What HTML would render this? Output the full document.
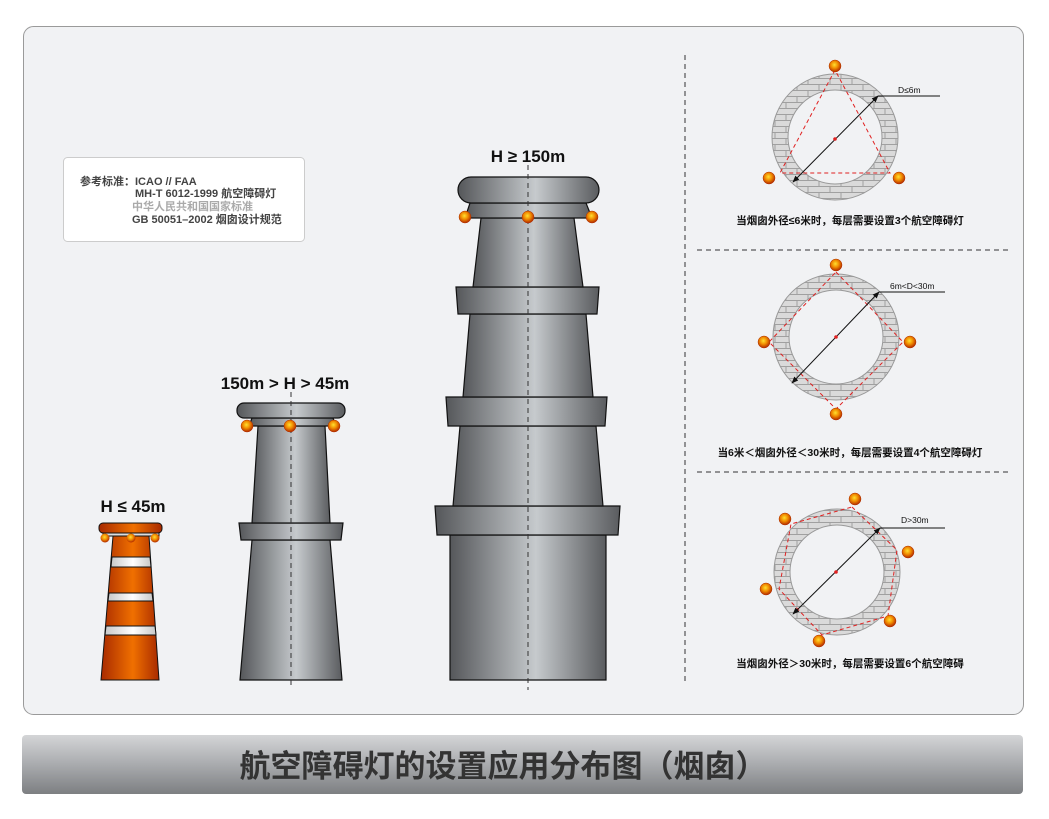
<!DOCTYPE html>
<html><head><meta charset="utf-8">
<style>
body{margin:0;width:1049px;height:819px;background:#fff;overflow:hidden}
svg{display:block}
text{font-family:"Liberation Sans","Noto Sans CJK SC",sans-serif;}
</style></head><body>
<svg width="1049" height="819" viewBox="0 0 1049 819" xmlns="http://www.w3.org/2000/svg">
<defs>
<linearGradient id="gy" x1="0" x2="1" y1="0" y2="0">
<stop offset="0" stop-color="#55575a"/><stop offset="0.55" stop-color="#c6cacd"/><stop offset="1" stop-color="#5a5c5f"/>
</linearGradient>
<linearGradient id="or" x1="0" x2="1">
<stop offset="0" stop-color="#a82a00"/><stop offset="0.55" stop-color="#f07000"/><stop offset="1" stop-color="#a82a00"/>
</linearGradient>
<linearGradient id="wh" x1="0" x2="1">
<stop offset="0" stop-color="#c8c8c8"/><stop offset="0.55" stop-color="#ffffff"/><stop offset="1" stop-color="#c8c8c8"/>
</linearGradient>
<linearGradient id="tb" x1="0" x2="0" y1="0" y2="1">
<stop offset="0" stop-color="#d4d5d7"/><stop offset="0.5" stop-color="#a9abae"/><stop offset="1" stop-color="#7d7f82"/>
</linearGradient>
<radialGradient id="lt" cx="0.45" cy="0.4" r="0.6">
<stop offset="0" stop-color="#ffe030"/><stop offset="0.5" stop-color="#f08a00"/><stop offset="1" stop-color="#b02800"/>
</radialGradient>
<pattern id="brick" width="22" height="12" patternUnits="userSpaceOnUse">
<rect width="22" height="12" fill="#dadada"/>
<path d="M0 0.5H22M0 6.5H22M5 0V6M16 6V12" stroke="#a0a0a0" stroke-width="1" fill="none"/>
</pattern>
<marker id="ar" viewBox="0 0 10 10" refX="9" refY="5" markerWidth="7" markerHeight="7" orient="auto-start-reverse">
<path d="M0,1 L10,5 L0,9 z" fill="#111"/>
</marker>
<g id="L"><circle r="6" fill="url(#lt)" stroke="#b03000" stroke-width="0.5"/></g>
</defs>

<rect x="23.5" y="26.5" width="1000" height="688" rx="10" fill="#f1f2f4" stroke="#9a9a9a"/>

<rect x="63.5" y="157.5" width="241" height="84" rx="4" fill="#fff" stroke="#ccc"/>
<g font-size="11" font-weight="bold" fill="#444">
<text x="80" y="185">参考标准：ICAO // FAA</text>
<text x="135" y="197">MH-T 6012-1999 航空障碍灯</text>
<text x="132" y="210" fill="#aaa">中华人民共和国国家标准</text>
<text x="132" y="223">GB 50051–2002 烟囱设计规范</text>
</g>

<g stroke="#111" stroke-width="1.2" fill="url(#gy)">
<polygon points="450,535 606,535 606,680 450,680"/>
<polygon points="435,506 620,506 618,535 437,535"/>
<polygon points="460,426 596,426 603,506 453,506"/>
<polygon points="446,397 607,397 605,426 448,426"/>
<polygon points="470,314 586,314 593,397 463,397"/>
<polygon points="456,287 599,287 597,314 458,314"/>
<polygon points="481,218 574,218 583,287 473,287"/>
<polygon points="470,203 586,203 592,218 465,218"/>
<rect x="458" y="177" width="141" height="26" rx="13"/>
</g>
<line x1="528" y1="165" x2="528" y2="690" stroke="#333" stroke-dasharray="5,4"/>
<use href="#L" x="465" y="217"/><use href="#L" x="528" y="217"/><use href="#L" x="592" y="217"/>
<text x="528" y="162" font-size="17" font-weight="bold" text-anchor="middle" fill="#111">H ≥ 150m</text>

<g stroke="#111" stroke-width="1.2" fill="url(#gy)">
<polygon points="252,540 330,540 342,680 240,680"/>
<polygon points="239,523 343,523 341,540 241,540"/>
<polygon points="258,426 325,426 330,523 252,523"/>
<polygon points="252,418 333,418 336,426 249,426"/>
<rect x="237" y="403" width="108" height="15" rx="7"/>
</g>
<line x1="291" y1="392" x2="291" y2="688" stroke="#333" stroke-dasharray="5,4"/>
<use href="#L" x="247" y="426"/><use href="#L" x="290" y="426"/><use href="#L" x="334" y="426"/>
<text x="285" y="389" font-size="17" font-weight="bold" text-anchor="middle" fill="#111">150m &gt; H &gt; 45m</text>

<g stroke="#111" stroke-width="1">
<polygon points="113,536 149,536 159,680 101,680" fill="url(#or)"/>
<polygon points="112,557 150,557 151,567 111,567" fill="url(#wh)"/>
<polygon points="109,593 152,593 153,601 108,601" fill="url(#wh)"/>
<polygon points="106,626 155,626 156,635 105,635" fill="url(#wh)"/>
<rect x="103" y="532" width="56" height="4" fill="#ddd"/>
<rect x="99" y="523" width="63" height="10" rx="4" fill="url(#or)"/>
</g>
<circle cx="105" cy="538" r="4.5" fill="url(#lt)"/><circle cx="131" cy="538" r="4.5" fill="url(#lt)"/><circle cx="155" cy="538" r="4.5" fill="url(#lt)"/>
<text x="133" y="512" font-size="17" font-weight="bold" text-anchor="middle" fill="#111">H ≤ 45m</text>

<line x1="685" y1="55" x2="685" y2="685" stroke="#333" stroke-dasharray="5,4"/>
<line x1="697" y1="250" x2="1010" y2="250" stroke="#333" stroke-dasharray="5,4"/>
<line x1="697" y1="472" x2="1010" y2="472" stroke="#333" stroke-dasharray="5,4"/>

<g>
<circle cx="835" cy="137" r="55" fill="none" stroke="url(#brick)" stroke-width="16"/>
<circle cx="835" cy="137" r="63" fill="none" stroke="#999"/>
<circle cx="835" cy="137" r="47" fill="none" stroke="#999"/>
<polygon points="835,70 780,173 890,173" fill="none" stroke="#e02020" stroke-dasharray="4,3"/>
<line x1="793" y1="182" x2="878" y2="96" stroke="#111" marker-start="url(#ar)" marker-end="url(#ar)"/>
<line x1="878" y1="96" x2="940" y2="96" stroke="#111"/>
<circle cx="835" cy="139" r="1.8" fill="#e02020"/>
<use href="#L" x="835" y="66"/><use href="#L" x="769" y="178"/><use href="#L" x="899" y="178"/>
<text x="898" y="93" font-size="8.5" fill="#111">D≤6m</text>
<text x="850" y="224" font-size="10.5" font-weight="bold" text-anchor="middle" fill="#111">当烟囱外径≤6米时，每层需要设置3个航空障碍灯</text>
</g>

<g>
<circle cx="836" cy="337" r="55" fill="none" stroke="url(#brick)" stroke-width="16"/>
<circle cx="836" cy="337" r="63" fill="none" stroke="#999"/>
<circle cx="836" cy="337" r="47" fill="none" stroke="#999"/>
<polygon points="836,272 903,342 836,409 769,342" fill="none" stroke="#e02020" stroke-dasharray="4,3"/>
<line x1="792" y1="383" x2="879" y2="292" stroke="#111" marker-start="url(#ar)" marker-end="url(#ar)"/>
<line x1="879" y1="292" x2="945" y2="292" stroke="#111"/>
<circle cx="836" cy="337" r="1.8" fill="#e02020"/>
<use href="#L" x="836" y="265"/><use href="#L" x="764" y="342"/><use href="#L" x="910" y="342"/><use href="#L" x="836" y="414"/>
<text x="890" y="289" font-size="8.5" fill="#111">6m&lt;D&lt;30m</text>
<text x="850" y="456" font-size="10.5" font-weight="bold" text-anchor="middle" fill="#111">当6米＜烟囱外径＜30米时，每层需要设置4个航空障碍灯</text>
</g>

<g>
<circle cx="837" cy="572" r="55" fill="none" stroke="url(#brick)" stroke-width="16"/>
<circle cx="837" cy="572" r="63" fill="none" stroke="#999"/>
<circle cx="837" cy="572" r="47" fill="none" stroke="#999"/>
<polygon points="852,507 897,550 888,616 822,635 779,589 791,524" fill="none" stroke="#e02020" stroke-dasharray="4,3"/>
<line x1="793" y1="614" x2="880" y2="528" stroke="#111" marker-start="url(#ar)" marker-end="url(#ar)"/>
<line x1="880" y1="528" x2="945" y2="528" stroke="#111"/>
<circle cx="836" cy="572" r="1.8" fill="#e02020"/>
<use href="#L" x="855" y="499"/><use href="#L" x="785" y="519"/><use href="#L" x="908" y="552"/><use href="#L" x="766" y="589"/><use href="#L" x="890" y="621"/><use href="#L" x="819" y="641"/>
<text x="901" y="523" font-size="8.5" fill="#111">D&gt;30m</text>
<text x="850" y="667" font-size="10.5" font-weight="bold" text-anchor="middle" fill="#111">当烟囱外径＞30米时，每层需要设置6个航空障碍</text>
</g>

<rect x="22" y="735" width="1001" height="59" rx="4" fill="url(#tb)"/>
<text x="503" y="777" font-size="31" font-weight="bold" text-anchor="middle" fill="#333">航空障碍灯的设置应用分布图（烟囱）</text>
</svg>
</body></html>
